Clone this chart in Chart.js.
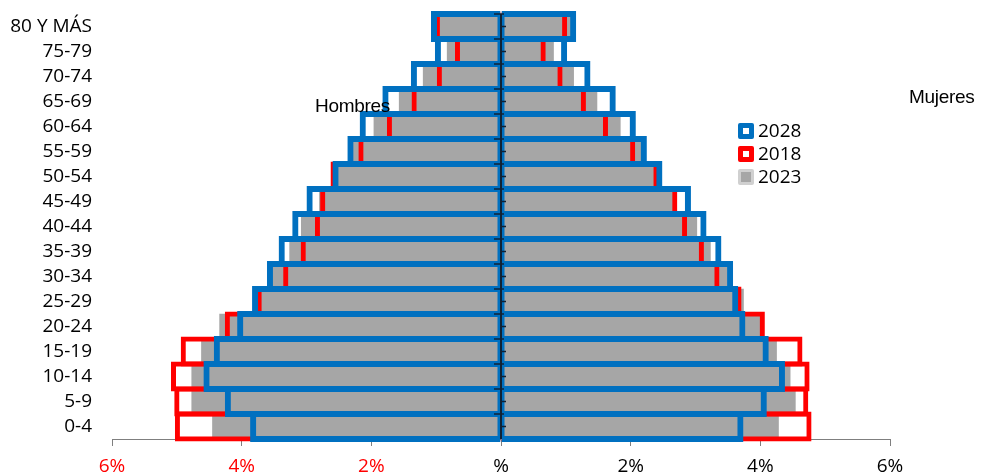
<!DOCTYPE html>
<html>
<head>
<meta charset="utf-8">
<script src="https://cdn.jsdelivr.net/npm/chart.js@4"></script>
<style>
  body { margin: 0; background: #fff; }
  .wrap { position: relative; width: 982px; height: 473px; }
  .side { position: absolute; font-family: "Liberation Sans", Arial, sans-serif; font-size: 19px; line-height: 19px; letter-spacing: -0.3px; color: #000; }
  .legend { position: absolute; left: 738px; top: 119px; font-family: "Open Sans", sans-serif; font-size: 19px; color: #000; }
  .legend .item { height: 23px; line-height: 23px; display: flex; align-items: center; }
  .legend .sw { width: 16px; height: 16px; box-sizing: border-box; border-radius: 2px; margin-right: 4px; }
</style>
</head>
<body>
<div class="wrap">
  <canvas id="pyramid"></canvas>
  <div class="side" style="left:315px; top:96px;">Hombres</div>
  <div class="side" style="left:909px; top:87px;">Mujeres</div>
  <div class="legend">
    <div class="item"><span class="sw" style="border:5px solid #0070C0; background:#fff;"></span>2028</div>
    <div class="item"><span class="sw" style="border:5px solid #FF0000; background:#fff;"></span>2018</div>
    <div class="item"><span class="sw" style="border:3px solid #d0d0d0; background:#a6a6a6;"></span>2023</div>
  </div>
</div>
<script>
window.addEventListener('DOMContentLoaded', () => {
  // Data (% of population), men read as positive, drawn to the left
  const ageGroups = ['80 Y MÁS', '75-79', '70-74', '65-69', '60-64', '55-59', '50-54', '45-49',
    '40-44', '35-39', '30-34', '25-29', '20-24', '15-19', '10-14', '5-9', '0-4'];
  const men2028 = [1.08, 1.02, 1.39, 1.83, 2.18, 2.37, 2.60, 3.00, 3.22, 3.43, 3.61, 3.84, 4.07, 4.43, 4.59, 4.26, 3.87];
  const women2028 = [1.16, 1.02, 1.38, 1.77, 2.08, 2.25, 2.49, 2.93, 3.17, 3.40, 3.58, 3.66, 3.77, 4.13, 4.38, 4.10, 3.74];
  const men2018 = [1.02, 0.71, 0.99, 1.38, 1.76, 2.20, 2.63, 2.79, 2.87, 3.09, 3.36, 3.77, 4.26, 4.94, 5.09, 5.04, 5.03];
  const women2018 = [1.02, 0.69, 0.95, 1.31, 1.65, 2.07, 2.43, 2.72, 2.87, 3.13, 3.37, 3.71, 4.07, 4.65, 4.76, 4.74, 4.79];
  const men2023 = [1.04, 0.83, 1.20, 1.57, 1.96, 2.33, 2.56, 2.80, 3.08, 3.26, 3.55, 3.80, 4.34, 4.62, 4.77, 4.77, 4.45];
  const women2023 = [1.09, 0.81, 1.12, 1.48, 1.84, 2.17, 2.43, 2.70, 3.02, 3.23, 3.49, 3.74, 4.05, 4.25, 4.46, 4.54, 4.28];
  const xTicks = [-6, -4, -2, 0, 2, 4, 6];

  const blue = '#0070C0';
  const red = '#FF0000';
  const gray = '#A6A6A6';

  const neg = arr => arr.map(v => -v);

  // order: lower is drawn on top
  const outlineBar = (data, color, pct, order, widths) => ({
    data: data,
    backgroundColor: 'rgba(0,0,0,0)',
    borderColor: color,
    borderWidth: widths,
    borderSkipped: false,
    barPercentage: pct,
    categoryPercentage: 1,
    order: order,
    clip: false
  });

  const datasets = [
    outlineBar(neg(men2028), blue, 1.24, 1, { top: 6, bottom: 6, left: 6, right: 3 }),
    outlineBar(women2028, blue, 1.24, 1, { top: 6, bottom: 6, left: 3, right: 6 }),
    outlineBar(neg(men2018), red, 1.2, 2, { top: 5, bottom: 5, left: 5, right: 0 }),
    outlineBar(women2018, red, 1.2, 2, { top: 5, bottom: 5, left: 0, right: 5 }),
    { data: neg(men2023), backgroundColor: gray, borderWidth: 0, barPercentage: 1, categoryPercentage: 1, order: 3 },
    { data: women2023, backgroundColor: gray, borderWidth: 0, barPercentage: 1, categoryPercentage: 1, order: 3 }
  ];

  // vertical axis through 0 with its tick marks
  const zeroAxis = {
    id: 'zeroAxis',
    afterDatasetsDraw(chart) {
      const { ctx, chartArea } = chart;
      const xs = chart.scales.x, ys = chart.scales.y;
      const x0 = xs.getPixelForValue(0);
      const step = ys.getPixelForValue(1) - ys.getPixelForValue(0);
      ctx.save();
      ctx.strokeStyle = '#0f2236';
      ctx.lineWidth = 2;
      ctx.beginPath();
      ctx.moveTo(x0, chartArea.top);
      ctx.lineTo(x0, chartArea.bottom);
      ctx.stroke();
      ctx.lineWidth = 1.5;
      for (let i = 0; i < ageGroups.length; i++) {
        const yc = ys.getPixelForValue(i);
        const yb = yc - step / 2;
        ctx.beginPath();
        ctx.moveTo(x0 - 7, yb);
        ctx.lineTo(x0 + 3, yb);
        ctx.moveTo(x0, yc);
        ctx.lineTo(x0 + 5, yc);
        ctx.stroke();
      }
      ctx.restore();
    }
  };

  new Chart(document.getElementById('pyramid'), {
    type: 'bar',
    data: { labels: ageGroups, datasets: datasets },
    plugins: [zeroAxis],
    options: {
      indexAxis: 'y',
      responsive: true,
      maintainAspectRatio: false,
      animation: false,
      layout: { padding: { top: 14, right: 92, left: 0, bottom: 0 } },
      plugins: { legend: { display: false }, tooltip: { enabled: false } },
      scales: {
        x: {
          min: -6,
          max: 6,
          afterBuildTicks: s => { s.ticks = xTicks.map(v => ({ value: v })); },
          afterFit: s => { s.height = 34; s.paddingLeft = 0; s.paddingRight = 0; },
          ticks: {
            font: { family: 'Open Sans', size: 19 },
            padding: 9,
            maxRotation: 0,
            color: ctx => ctx.tick.value < 0 ? red : '#000',
            callback: v => v === 0 ? '%' : Math.abs(v) + '%'
          },
          grid: { drawOnChartArea: false, tickLength: 7, tickColor: '#7f7f7f' },
          border: { color: '#7f7f7f' }
        },
        y: {
          stacked: true,
          afterFit: s => { s.width = 112; s.paddingTop = 0; s.paddingBottom = 0; },
          grid: { display: false, drawTicks: false },
          border: { display: false },
          ticks: { font: { family: 'Open Sans', size: 19 }, color: '#000', padding: 20, autoSkip: false }
        }
      }
    }
  });
});
</script>
</body>
</html>
